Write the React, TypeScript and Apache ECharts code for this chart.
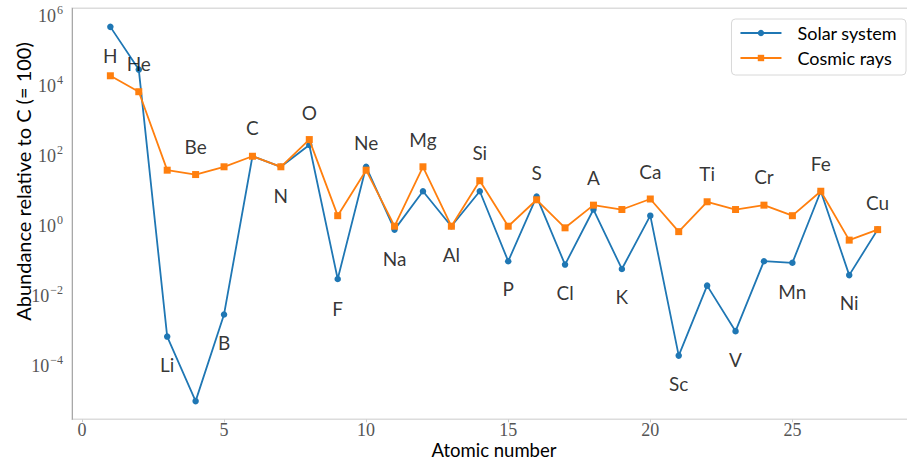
import React, { useEffect, useRef } from "react";
import * as echarts from "echarts";

const elements = ["H", "He", "Li", "Be", "B", "C", "N", "O", "F", "Ne", "Na", "Mg", "Al", "Si", "P", "S", "Cl", "A", "K", "Ca", "Sc", "Ti", "V", "Cr", "Mn", "Fe", "Ni", "Cu"];
const atomicNumber = [1, 2, 3, 4, 5, 6, 7, 8, 9, 10, 11, 12, 13, 14, 15, 16, 17, 18, 19, 20, 21, 22, 23, 24, 25, 26, 27, 28];
const solarSystem = [5e5, 3e4, 7e-4, 1e-5, 3e-3, 100, 50, 210, 0.031, 50, 0.8, 10, 1, 10, 0.1, 7, 0.08, 3, 0.06, 2, 2e-4, 0.02, 1e-3, 0.1, 0.09, 10, 0.04, 0.8];
const cosmicRays = [2e4, 7e3, 40, 30, 50, 100, 50, 300, 2, 40, 1, 50, 1, 20, 1, 5.7, 0.9, 4, 3, 6, 0.7, 5, 3, 4, 2, 10, 0.4, 0.8];
// decade (log10 abundance) at which each element's name annotation sits
const labelLevelExp = [4.88, 4.65, -3.96, 2.28, -3.32, 2.81, 0.875, 3.26, -2.34, 2.38, -0.935, 2.48, -0.81, 2.11, -1.79, 1.54, -1.89, 1.39, -2.0, 1.57, -4.5, 1.5, -3.81, 1.41, -1.86, 1.79, -2.18, 0.69];
const xTicks = [0, 5, 10, 15, 20, 25];
const yTickExp = [-4, -2, 0, 2, 4, 6];

const SANS = "Lato";
const SERIF = "Liberation Serif";

export default function App() {
  const ref = useRef<HTMLDivElement>(null);
  useEffect(() => {
    if (!ref.current) return;
    const chart = echarts.init(ref.current, undefined, { renderer: "svg" });
    const toPts = (vals: number[]) => vals.map((v, i) => [atomicNumber[i], Math.log10(v)]);
    chart.setOption({
      animation: false,
      grid: {
        left: 72,
        right: -9,
        top: 8.3,
        bottom: 43.7,
        show: true,
        borderColor: "#dcdcdc",
        borderWidth: 1.5,
        containLabel: false,
        outerBoundsMode: "none",
      },
      xAxis: {
        type: "value",
        min: -0.35,
        max: 29.35,
        axisLine: { show: false, onZero: false },
        axisTick: { show: true, customValues: xTicks, length: 3, lineStyle: { color: "#cccccc" } },
        axisLabel: { customValues: xTicks, fontFamily: SERIF, fontSize: 18, color: "#555", margin: 2 },
        splitLine: { show: false },
      },
      yAxis: {
        type: "value",
        min: -5.52,
        max: 6.23,
        axisLine: { show: true, onZero: false, lineStyle: { color: "#a8a8a8", width: 1 } },
        axisTick: { show: false },
        splitLine: { show: false },
        axisLabel: {
          customValues: yTickExp,
          margin: 9,
          fontFamily: SERIF,
          fontSize: 18,
          color: "#555",
          formatter: (v: number) => {
            const n = Math.round(v);
            return `{b|10}{s|${n < 0 ? "\u2212" + -n : n}}`;
          },
          rich: {
            b: { fontFamily: SERIF, fontSize: 18, lineHeight: 18, color: "#555", verticalAlign: "middle" },
            s: { fontFamily: SERIF, fontSize: 12, lineHeight: 12, color: "#555", padding: [0, 0, 9, 1], verticalAlign: "bottom" },
          },
        },
      },
      legend: {
        data: ["Solar system", "Cosmic rays"],
        orient: "vertical",
        right: 1,
        top: 19,
        itemWidth: 41,
        itemHeight: 8,
        itemGap: 7,
        padding: [5, 9, 8, 8],
        backgroundColor: "#fff",
        borderColor: "#d8d8d8",
        borderWidth: 1,
        borderRadius: 4,
        textStyle: { fontFamily: SANS, fontSize: 18, color: "#000", padding: [0, 0, 0, 11] },
      },
      graphic: [
        {
          type: "text",
          x: 23,
          y: 181.5,
          rotation: Math.PI / 2,
          style: {
            text: "Abundance relative to C (= 100)",
            fontFamily: SANS,
            fontSize: 20,
            fill: "#000",
            textAlign: "center",
            textVerticalAlign: "middle",
          },
        },
        {
          type: "text",
          x: 494,
          y: 450,
          style: {
            text: "Atomic number",
            fontFamily: SANS,
            fontSize: 18.5,
            fill: "#000",
            textAlign: "center",
            textVerticalAlign: "middle",
          },
        },
      ],
      series: [
        {
          name: "Solar system",
          type: "line",
          data: toPts(solarSystem),
          symbol: "circle",
          symbolSize: 6.5,
          lineStyle: { color: "#1f77b4", width: 1.8 },
          itemStyle: { color: "#1f77b4" },
          z: 2,
        },
        {
          name: "Cosmic rays",
          type: "line",
          data: toPts(cosmicRays),
          symbol: "rect",
          symbolSize: 7,
          lineStyle: { color: "#ff7f0e", width: 1.8 },
          itemStyle: { color: "#ff7f0e" },
          z: 3,
        },
        {
          name: "labels",
          type: "scatter",
          data: elements.map((el, i) => ({ name: el, value: [atomicNumber[i], labelLevelExp[i]] })),
          symbolSize: 1,
          itemStyle: { color: "rgba(0,0,0,0)" },
          label: {
            show: true,
            position: "inside",
            formatter: (p: any) => p.name,
            fontFamily: SANS,
            fontSize: 19,
            color: "#000",
          },
          z: 4,
        },
      ],
    });
    return () => chart.dispose();
  }, []);
  return <div ref={ref} style={{ position: "fixed", left: 0, top: 0, width: 907, height: 463, background: "#fff" }} />;
}
